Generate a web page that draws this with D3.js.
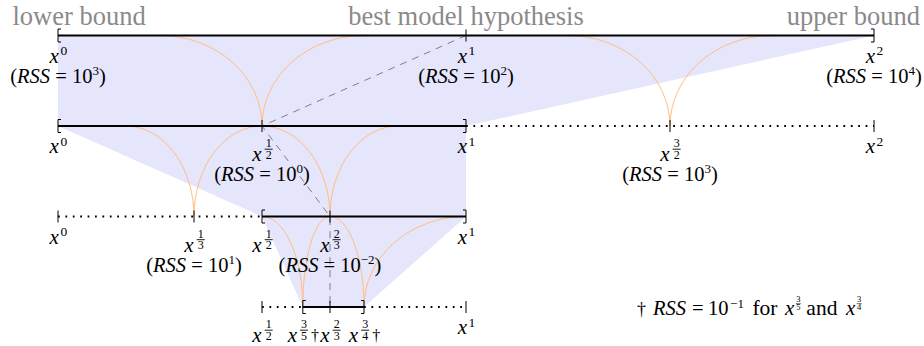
<!DOCTYPE html>
<meta charset="utf-8">
<style>
  body { margin: 0; background: #fff; }
  svg text { font-family: "Liberation Serif", "Times New Roman", serif; white-space: pre; }
</style>
<div id="chart"></div>
<script src="https://d3js.org/d3.v7.min.js"></script>
<script>

// exponent labels on each level of the search (x^e)
var levelLabels = [
  ["0", "1", "2"],
  ["0", "1/2", "1", "3/2", "2"],
  ["0", "1/3", "1/2", "2/3", "1"],
  ["1/2", "3/5", "2/3", "3/4", "1"]
];
// interval kept at each level (solid part)
var keptLo = ["0", "0", "1/2", "3/5"];
var keptHi = ["2", "1", "1", "3/4"];
// best model hypothesis at each level
var bestPoint = ["1", "1/2", "2/3", "2/3"];
// RSS exponents shown under the probed points
var rssLevel0 = {"0": "3", "1": "2", "2": "4"};
var rssLevel1 = {"1/2": "0", "3/2": "3"};
var rssLevel2 = {"1/3": "1", "2/3": "\u22122"};
var rssByLevel = [rssLevel0, rssLevel1, rssLevel2, {}];
var daggerPoints = ["3/5", "3/4"];
var daggerRss = "\u22121";
// error curves between levels: cusp, left end, right end (exponents)
var curveLevel = [0, 0, 1, 1, 2, 2];
var curveCusp = ["1/2", "3/2", "1/3", "2/3", "3/5", "3/4"];
var curveFrom = ["1/4", "5/4", "1/6", "1/2", "1/2", "2/3"];
var curveTo = ["3/4", "7/4", "1/2", "5/6", "2/3", "1"];
var titles = ["lower bound", "best model hypothesis", "upper bound"];

var width = 924, height = 346;

function val(s) {
  var p = s.split("/");
  return p.length > 1 ? +p[0] / +p[1] : +p[0];
}

var svg = d3.select("#chart").append("svg")
    .attr("width", width)
    .attr("height", height);

var x = d3.scaleLinear().domain([0, 2]).range([58, 874]);
var y = d3.scaleLinear().domain([0, 3]).range([35.5, 307]);

// shaded funnel of kept intervals
var poly = [];
keptLo.forEach(function(d, i) { poly.push([x(val(d)), y(i)]); });
keptHi.slice().reverse().forEach(function(d, i) { poly.push([x(val(d)), y(keptHi.length - 1 - i)]); });
svg.append("path")
    .attr("d", "M" + poly.join("L") + "Z")
    .attr("fill", "#e5e5fb");

// orange error curves (quarter ellipses)
curveCusp.forEach(function(c, i) {
  var top = y(curveLevel[i]), bot = y(curveLevel[i] + 1);
  var xc = x(val(c)), x0 = x(val(curveFrom[i])), x1 = x(val(curveTo[i]));
  var ry = bot - top;
  var d = "M" + x0 + "," + top +
    "A" + (xc - x0) + "," + ry + " 0 0 1 " + xc + "," + bot +
    "A" + (x1 - xc) + "," + ry + " 0 0 1 " + x1 + "," + top;
  svg.append("path").attr("d", d)
      .attr("fill", "none")
      .attr("stroke", "#ffbf80")
      .attr("stroke-width", 1);
});

// dashed path of best hypotheses
svg.append("path")
    .attr("d", d3.line()(bestPoint.map(function(d, i) { return [x(val(d)), y(i)]; })))
    .attr("fill", "none")
    .attr("stroke", "#808080")
    .attr("stroke-width", 1)
    .attr("stroke-dasharray", "7,6");

// levels
levelLabels.forEach(function(labels, i) {
  var yy = y(i);
  var lo = val(labels[0]), hi = val(labels[labels.length - 1]);
  var a = val(keptLo[i]), b = val(keptHi[i]);
  var g = svg.append("g");

  // dotted parts
  [[lo, a], [b, hi]].forEach(function(s) {
    if (s[1] > s[0]) {
      g.append("line")
          .attr("x1", x(s[0])).attr("x2", x(s[1]))
          .attr("y1", yy).attr("y2", yy)
          .attr("stroke", "#000")
          .attr("stroke-width", 1.8)
          .attr("stroke-dasharray", "1.8,5.6");
    }
  });
  // solid part
  g.append("line")
      .attr("x1", x(a)).attr("x2", x(b))
      .attr("y1", yy).attr("y2", yy)
      .attr("stroke", "#000")
      .attr("stroke-width", 2);

  // brackets
  [[a, 1], [b, -1]].forEach(function(br) {
    var bx = x(br[0]);
    g.append("path")
        .attr("d", "M" + (bx + 3 * br[1]) + "," + (yy - 6.5) + "H" + bx + "V" + (yy + 6.5) + "H" + (bx + 3 * br[1]))
        .attr("fill", "none")
        .attr("stroke", "#000")
        .attr("stroke-width", 1);
  });

  labels.forEach(function(l) {
    var v = val(l);
    if (l !== keptLo[i] && l !== keptHi[i]) {
      g.append("line")
          .attr("x1", x(v)).attr("x2", x(v))
          .attr("y1", yy - 6).attr("y2", yy + 6)
          .attr("stroke", "#000")
          .attr("stroke-width", 1);
    }
    var frac = l.indexOf("/") >= 0;
    var base = yy + (frac ? 35 : 27);
    var dag = i === 3 && daggerPoints.indexOf(l) >= 0;
    expLabel(g, x(v), base, l, dag);
    var rss = rssByLevel[i][l];
    if (rss !== undefined) rssLabel(g, x(v), base + 20, rss);
  });
});

function expLabel(g, cx, base, e, dag) {
  var lg = g.append("g");
  var xt = lg.append("text").attr("font-style", "italic").attr("font-size", 21).text("x");
  var xw = xt.node().getComputedTextLength();
  var end = xw;
  if (e.indexOf("/") >= 0) {
    var p = e.split("/"), fx = xw + 7;
    lg.append("text").attr("x", fx).attr("y", -14).attr("text-anchor", "middle")
        .attr("font-size", 12).text(p[0]);
    lg.append("line").attr("x1", fx - 4).attr("x2", fx + 4)
        .attr("y1", -11.8).attr("y2", -11.8)
        .attr("stroke", "#000").attr("stroke-width", 0.9);
    lg.append("text").attr("x", fx).attr("y", -2.5).attr("text-anchor", "middle")
        .attr("font-size", 12).text(p[1]);
    end = fx + 4;
  } else {
    var st = lg.append("text").attr("x", xw + 1.5).attr("y", -7.5).attr("font-size", 13.5).text(e);
    end = xw + 1.5 + st.node().getComputedTextLength();
  }
  if (dag) lg.append("text").attr("x", end + 3).attr("y", -1).attr("font-size", 16).text("\u2020");
  var bb = lg.node().getBBox();
  lg.attr("transform", "translate(" + (cx - bb.x - bb.width / 2) + "," + base + ")");
}

function rssLabel(g, cx, base, e) {
  var t = g.append("text").attr("y", base).attr("font-size", 20.5);
  t.append("tspan").text("(");
  t.append("tspan").attr("font-style", "italic").text("RSS");
  t.append("tspan").text(" = 10");
  t.append("tspan").attr("font-size", 13).attr("dy", -8).text(e);
  t.append("tspan").attr("dy", 8).text(")");
  var w = t.node().getComputedTextLength();
  t.attr("x", cx - w / 2);
}

// titles
svg.append("text").attr("x", 12.5).attr("y", 25).attr("font-size", 26.5)
    .attr("fill", "#8a8a8a").text(titles[0]);
svg.append("text").attr("x", x(1)).attr("y", 25).attr("font-size", 26.5)
    .attr("text-anchor", "middle").attr("fill", "#8a8a8a").text(titles[1]);
svg.append("text").attr("x", 920).attr("y", 25).attr("font-size", 26.5)
    .attr("text-anchor", "end").attr("fill", "#8a8a8a").text(titles[2]);

// footnote
var fn = svg.append("g").attr("transform", "translate(637,315)");
var cur = 0;
function piece(txt, pad, italic, size, dy) {
  cur += pad;
  var t = fn.append("text").attr("x", cur).attr("y", dy || 0)
      .attr("font-size", size).text(txt);
  if (italic) t.attr("font-style", "italic");
  cur += t.node().getComputedTextLength();
}
function tinyFrac(s) {
  var p = s.split("/"), fx = cur + 4;
  fn.append("text").attr("x", fx).attr("y", -13).attr("text-anchor", "middle").attr("font-size", 8.5).text(p[0]);
  fn.append("line").attr("x1", fx - 2.5).attr("x2", fx + 2.5).attr("y1", -11.3).attr("y2", -11.3)
      .attr("stroke", "#000").attr("stroke-width", 0.6);
  fn.append("text").attr("x", fx).attr("y", -4.8).attr("text-anchor", "middle").attr("font-size", 8.5).text(p[1]);
  cur += 7;
}
piece("\u2020", 0, false, 18);
piece("RSS", 7, true, 20.5);
piece("=", 6, false, 20.5);
piece("10", 4.5, false, 20.5);
piece(daggerRss, 1.5, false, 13, -7.5);
piece("for", 8.5, false, 21.5);
piece("x", 7.5, true, 21);
tinyFrac(daggerPoints[0]);
piece("and", 5, false, 21.5);
piece("x", 8.5, true, 21);
tinyFrac(daggerPoints[1]);

</script>
